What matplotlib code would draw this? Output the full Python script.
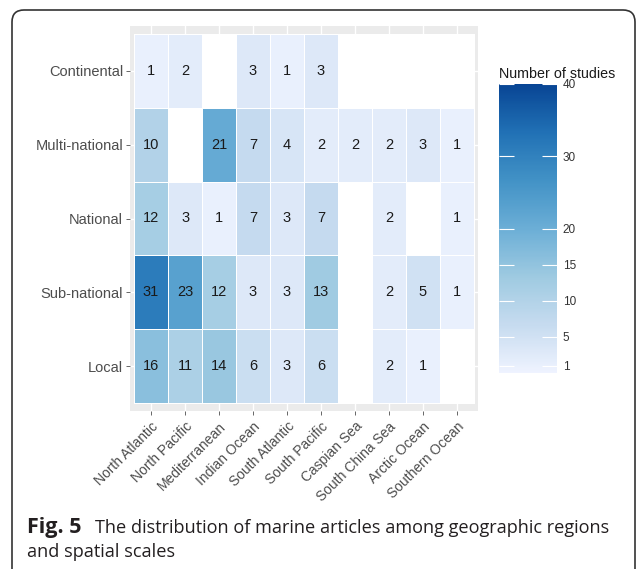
import numpy as np
import matplotlib
matplotlib.use("Agg")
import matplotlib.pyplot as plt
from matplotlib.colors import LinearSegmentedColormap
from matplotlib.patches import FancyBboxPatch

regions = ["North Atlantic", "North Pacific", "Mediterranean", "Indian Ocean",
           "South Atlantic", "South Pacific", "Caspian Sea", "South China Sea",
           "Arctic Ocean", "Southern Ocean"]
# bottom to top
scales = ["Local", "Sub-national", "National", "Multi-national", "Continental"]

nan = np.nan
local = [16, 11, 14, 6, 3, 6, nan, 2, 1, nan]
sub_national = [31, 23, 12, 3, 3, 13, nan, 2, 5, 1]
national = [12, 3, 1, 7, 3, 7, nan, 2, nan, 1]
multi_national = [10, nan, 21, 7, 4, 2, 2, 2, 3, 1]
continental = [1, 2, nan, 3, 1, 3, nan, nan, nan, nan]

cbar_ticks = [1, 5, 10, 15, 20, 30, 40]

counts = np.array([local, sub_national, national, multi_national, continental])

plt.rcParams["font.family"] = ["Liberation Sans", "DejaVu Sans"]

W, H = 636, 569
fig = plt.figure(figsize=(W / 100, H / 100), dpi=100)


def fig_box(x0, y0, x1, y1):
    # pixel box (top-left origin) -> figure fraction rect
    return [x0 / W, 1 - y1 / H, (x1 - x0) / W, (y1 - y0) / H]


# 7-class brewer Blues, like scale_fill_distiller
cmap = LinearSegmentedColormap.from_list(
    "blues7", ["#EFF3FF", "#C6DBEF", "#9ECAE1", "#6BAED6",
               "#4292C6", "#2171B5", "#084594"])
cmap.set_bad("white")

ax = fig.add_axes(fig_box(130, 26, 478, 411))
ax.set_facecolor("#ebebeb")
mesh = ax.pcolormesh(np.ma.masked_invalid(counts), cmap=cmap, vmin=0, vmax=40,
                     edgecolor="white", linewidth=0.6)
mesh.set_zorder(2)
ax.set_xlim(-0.12, len(regions) + 0.12)
ax.set_ylim(-0.11, len(scales) + 0.11)

for i in range(len(scales)):
    for j in range(len(regions)):
        v = counts[i, j]
        if not np.isnan(v):
            ax.text(j + 0.5, i + 0.5, "%d" % v, ha="center", va="center",
                    fontsize=10.5, color="#1a1a1a", zorder=3)

ax.set_xticks(np.arange(len(regions)) + 0.5)
ax.set_xticklabels(regions, rotation=45, ha="right", rotation_mode="anchor")
ax.set_yticks(np.arange(len(scales)) + 0.5)
ax.set_yticklabels(scales)
ax.tick_params(length=3, width=0.6, color="#4d4d4d", labelcolor="#4d4d4d",
               labelsize=10.5, pad=2)
ax.tick_params(axis="x", labelsize=10, pad=3)
ax.grid(True, color="white", linewidth=1.0, zorder=0)
ax.set_axisbelow(True)
for s in ax.spines.values():
    s.set_visible(False)

# colour bar
cax = fig.add_axes(fig_box(499, 84, 557, 373))
cb = fig.colorbar(mesh, cax=cax, ticks=cbar_ticks)
cb.outline.set_visible(False)
cax.tick_params(direction="in", length=11, width=0.8, color="white",
                left=True, right=True, labelsize=8.5, labelcolor="#333333", pad=4)
fig.text(499 / W, 1 - 74 / H, "Number of studies", fontsize=10.3,
         ha="left", va="center", color="#1a1a1a")

# frame around figure
frame = FancyBboxPatch((12 / 100, -0.3), (635 - 12) / 100, (H - 10) / 100 + 0.3,
                       boxstyle="round,pad=0,rounding_size=0.12",
                       transform=fig.dpi_scale_trans, facecolor="none",
                       edgecolor="#333333", linewidth=1.2, clip_on=False)
fig.patches.append(frame)

# caption
cap_font = ["Open Sans", "DejaVu Sans"]
fig.text(27 / W, 1 - 533 / H, "Fig. 5", fontsize=15.5, fontweight="bold",
         family=cap_font, color="#231f20", ha="left", va="baseline")
fig.text(27 / W, 1 - 557 / H, "and spatial scales", fontsize=13.1,
         family=cap_font, color="#231f20", ha="left", va="baseline")
fig.text(95 / W, 1 - 533 / H,
         "The distribution of marine articles among geographic regions",
         fontsize=13.1, family=cap_font, color="#231f20", ha="left", va="baseline")

fig.savefig("out.png", dpi=100)
